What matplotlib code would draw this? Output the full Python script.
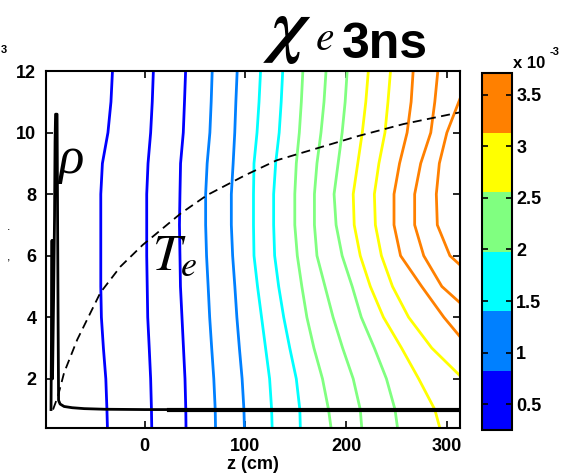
import matplotlib
matplotlib.use("Agg")
import matplotlib.pyplot as plt
from matplotlib.colors import ListedColormap, Normalize
from matplotlib.cm import ScalarMappable

plt.rcParams['font.family'] = ['Liberation Sans', 'DejaVu Sans']
plt.rcParams['mathtext.fontset'] = 'custom'
plt.rcParams['mathtext.rm'] = 'STIXGeneral'
plt.rcParams['mathtext.it'] = 'STIXGeneral:italic'
plt.rcParams['mathtext.bf'] = 'STIXGeneral:italic:bold'

# chi_e colour scale (units of 1e-3), six flat bands
chi_min, chi_max = 0.25, 3.71
band_colors = ['#0000ff', '#0080ff', '#00ffff', '#80ff80', '#ffff00', '#ff8000']
cbar_ticks = [0.5, 1, 1.5, 2, 2.5, 3, 3.5]
cbar_labels = ['0.5', '1', '1.5', '2', '2.5', '3', '3.5']

# contour levels of chi_e and the traced iso-lines (r in axis units, z in cm)
chi_levels = [0.35, 0.55, 0.75, 1.0, 1.25, 1.5, 1.75, 2.05, 2.25, 2.45,
              2.7, 2.95, 3.2, 3.4, 3.6]
r_full = [12, 11, 10, 9, 8, 7, 6, 5, 4, 3, 2, 1, 0.4]
contour_r = [r_full] * 11 + [
    [12, 11, 10, 9, 8, 7, 6, 5, 4, 3, 2.1],
    [12, 11, 10, 9, 8, 7, 6, 5, 4, 3.37],
    [12, 11, 10, 9, 8, 7, 6, 5, 4.47],
    [11.1, 10, 9, 8, 7, 6, 5.7],
]
contour_z = [
    [-32, -33.5, -36.5, -42, -43.6, -43.6, -43.6, -43.6, -43, -41, -38.6, -37.5, -37],
    [8.6, 7.5, 5.9, 3.3, 2, 2, 2, 2.5, 3, 4.5, 5.9, 6.7, 7],
    [40.6, 39.5, 38.3, 35.6, 35, 34.5, 35, 35.5, 37, 38.5, 40, 40.8, 41],
    [67, 66, 64.7, 62, 60.5, 60.5, 61.4, 63, 64.5, 66.5, 68.6, 70, 70.3],
    [91.8, 90.5, 89.4, 87.8, 86, 86, 87.3, 89.5, 91.5, 94, 96.7, 98.5, 99],
    [115, 113.5, 111.5, 108.5, 108, 108, 108.5, 112, 116, 120, 124, 126, 126.5],
    [137, 135.5, 133.5, 130, 128, 128, 129, 133, 138, 144, 150.5, 154, 154.5],
    [157, 155.5, 153.5, 150.5, 149, 149, 151.5, 156, 161, 168, 176.5, 182.5, 185],
    [180, 178, 175, 171, 168.5, 168.5, 171, 179, 187, 196.5, 207, 214, 215.5],
    [201, 199, 196, 192, 188, 190, 196, 206, 215, 228, 240, 248.5, 251],
    [222, 219.5, 216, 211.5, 207, 208, 214, 224, 237, 255, 272, 288, 293],
    [244, 241.5, 238.5, 232.5, 228, 229, 235, 246, 262, 285, 313],
    [266.5, 264.5, 260.5, 253, 247.5, 247.5, 254, 275, 297, 313],
    [291, 288, 284, 274, 268, 268, 277, 295, 313],
    [313, 300, 292.5, 289.5, 290.5, 303, 313],
]

# electron temperature profile (dashed) and density profile, in plot units
te_z = [-91, -86, -80, -67, -44, -24, -2, 36, 62, 100, 131, 171, 212, 257, 313]
te_r = [1.0, 1.45, 2.2, 3.27, 4.8, 5.65, 6.35, 7.38, 7.97, 8.62, 9.1, 9.49,
        9.89, 10.28, 10.66]
rho_z = [-93, -92, -91.5, -90.5, -89.5, -89, -88.5, -87, -86, -85.5, -84, -80,
         -72, -60, -40, 0, 24, 313]
rho_r = [1.0, 6.5, 2.0, 4.5, 7.3, 9.7, 10.6, 10.6, 4.0, 1.3, 1.18, 1.1, 1.06,
         1.03, 1.01, 1.0, 1.0, 1.0]

fig = plt.figure(figsize=(5.77, 4.74), dpi=100)
ax = fig.add_axes([0.0797, 0.097, 0.7175, 0.753])
cax = fig.add_axes([0.8354, 0.0928, 0.052, 0.753])

cmap = ListedColormap(band_colors)
norm = Normalize(chi_min, chi_max)

for lev, rs, zs in zip(chi_levels, contour_r, contour_z):
    ax.plot(zs, rs, color=cmap(norm(lev)), lw=2)

ax.plot(rho_z, rho_r, color='k', lw=2)
tail = [i for i, z in enumerate(rho_z) if z >= 24]
ax.plot([rho_z[i] for i in tail], [rho_r[i] for i in tail], color='k', lw=3)
ax.plot(te_z, te_r, color='k', lw=1.3, ls=(0, (5, 3)))

ax.text(-86, 8.7, 'ρ', fontsize=38, fontfamily='Liberation Serif',
        style='italic')
ax.text(7, 5.54, r'$T_e$', fontsize=37)

ax.set_xlim(-98, 313)
ax.set_ylim(0.4, 12)
ax.set_xticks([0, 100, 200, 300])
ax.set_yticks([2, 4, 6, 8, 10, 12])
ax.tick_params(direction='in', top=True, right=True, length=5, width=1.2,
               labelsize=13, pad=7)
for s in ax.spines.values():
    s.set_linewidth(1.5)
ax.set_xlabel('z (cm)', fontsize=13, fontweight='bold', labelpad=1)

cb = fig.colorbar(ScalarMappable(norm=norm, cmap=cmap), cax=cax,
                  ticks=cbar_ticks)
cb.ax.set_yticklabels(cbar_labels)
cb.ax.tick_params(direction='in', left=True, right=True, length=4, width=1.2,
                  labelsize=13, pad=3)
cb.outline.set_linewidth(1.5)

for lbl in ax.get_xticklabels() + ax.get_yticklabels() + cb.ax.get_yticklabels():
    lbl.set_fontweight('bold')

fig.text(0.889, 0.857, 'x 10', fontsize=12, fontweight='bold')
fig.text(0.952, 0.885, '-3', fontsize=8, fontweight='bold')

fig.text(0.4558, 0.897, r'$\mathbf{\chi}$', fontsize=52)
fig.text(0.546, 0.8945, r'$e$', fontsize=30)
fig.text(0.593, 0.8776, '3ns', fontsize=36, fontweight='bold')

# remains of a neighbouring panel label at the left edge
fig.text(0.001, 0.888, '3', fontsize=8, fontweight='bold')
fig.text(0.012, 0.515, '.', fontsize=9)
fig.text(0.012, 0.45, ',', fontsize=9)

fig.savefig('out.png', dpi=100)
